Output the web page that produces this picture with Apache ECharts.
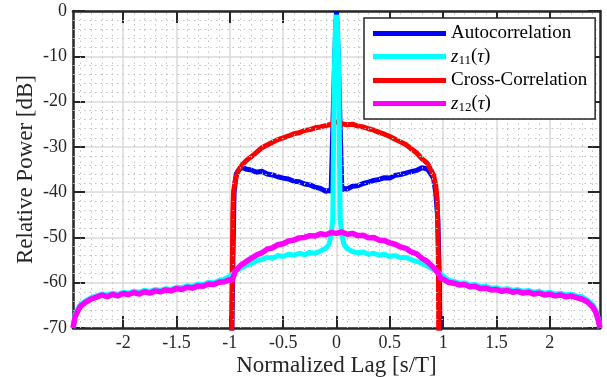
<!DOCTYPE html>
<html>
<head>
<meta charset="utf-8">
<script src="https://cdn.jsdelivr.net/npm/echarts@6/dist/echarts.min.js"></script>
<style>html,body{margin:0;padding:0;background:#fff}#c{width:607px;height:377px}</style>
</head>
<body>
<div id="c"></div>
<script>
// ---- data ----
const xTicks = [-2, -1.5, -1, -0.5, 0, 0.5, 1, 1.5, 2];
const xTickLabels = ['-2', '-1.5', '-1', '-0.5', '0', '0.5', '1', '1.5', '2'];
const yTicks = [-70, -60, -50, -40, -30, -20, -10, 0];
const seriesNames = ['Autocorrelation', 'z11', 'Cross-Correlation', 'z12'];

const autoLag = [-2.47,-0.99,-0.975,-0.96,-0.94,-0.92,-0.9,-0.88,-0.85,-0.8,-0.75,-0.7,-0.65,-0.6,-0.55,-0.5,-0.45,-0.4,-0.35,-0.3,-0.25,-0.2,-0.15,-0.1,-0.07,-0.05,-0.03,-0.015,0,0.015,0.03,0.05,0.07,0.1,0.15,0.2,0.25,0.3,0.35,0.4,0.45,0.5,0.55,0.6,0.65,0.7,0.75,0.8,0.85,0.88,0.91,0.93,0.95,0.965,0.975,2.47];
const autoDb = [-90,-90,-60,-40,-36,-35.2,-34.8,-34.5,-34.9,-35.1,-35.6,-35.4,-36.0,-36.2,-36.6,-36.9,-37.1,-37.6,-37.7,-38.2,-38.4,-38.9,-39.2,-39.8,-39.6,-39.8,-22,-9,0,-9,-22,-39.5,-39.2,-39.3,-38.7,-38.6,-38.1,-37.8,-37.4,-37.2,-36.8,-36.9,-36.3,-36.1,-35.8,-35.5,-35.2,-34.6,-34.9,-35.8,-37,-40,-46,-60,-90,-90];

const z11Lag = [-2.47,-2.45,-2.42,-2.4,-2.35,-2.3,-2.25,-2.2,-2.15,-2.1,-2.05,-2,-1.95,-1.9,-1.85,-1.8,-1.75,-1.7,-1.65,-1.6,-1.55,-1.5,-1.45,-1.4,-1.35,-1.3,-1.25,-1.2,-1.15,-1.1,-1.05,-1,
  -0.95,-0.9,-0.85,-0.8,-0.75,-0.7,-0.65,-0.6,-0.55,-0.5,-0.45,-0.4,-0.35,-0.3,-0.25,-0.2,-0.15,-0.1,
  -0.07,-0.05,-0.035,-0.028,-0.022,-0.012,0,0.012,0.022,0.028,0.035,0.05,0.07,
  0.1,0.15,0.2,0.25,0.3,0.35,0.4,0.45,0.5,0.55,0.6,0.65,0.7,0.75,0.8,0.85,0.9,0.95,
  1,1.05,1.1,1.15,1.2,1.25,1.3,1.35,1.4,1.45,1.5,1.55,1.6,1.65,1.7,1.75,1.8,1.85,1.9,1.95,2,2.05,2.1,2.15,2.2,2.25,2.3,2.35,2.4,2.43,2.45,2.47];
const z11Db = [-70,-67,-65.6,-64.8,-64.0,-63.3,-62.9,-62.5,-62.8,-62.3,-62.6,-62.1,-62.3,-61.9,-62.1,-61.7,-61.9,-61.5,-61.7,-61.3,-61.5,-61.0,-61.1,-60.7,-60.8,-60.3,-60.4,-59.9,-60.0,-59.5,-59.2,-58.6,
  -57.6,-56.8,-56.2,-55.8,-55.1,-54.9,-54.4,-54.6,-54.0,-54.2,-53.7,-53.9,-53.5,-53.8,-53.3,-53.5,-53.0,-52.4,
  -51.5,-49.5,-46,-30,-15,-5,-0.8,-5,-15,-30,-46,-49.5,-51.5,
  -52.5,-53.1,-53.4,-53.2,-53.7,-53.5,-53.9,-53.7,-54.2,-54.0,-54.5,-54.4,-54.9,-55.3,-55.7,-56.3,-56.9,-57.7,
  -58.5,-59.4,-59.7,-60.1,-60.0,-60.5,-60.4,-60.9,-60.8,-61.2,-61.1,-61.5,-61.3,-61.7,-61.5,-61.9,-61.7,-62.1,-61.9,-62.3,-62.1,-62.5,-62.3,-62.7,-62.5,-62.9,-63.1,-63.8,-64.8,-66,-67.5,-70];

const crossLag = [-2.47,-0.99,-0.978,-0.972,-0.965,-0.95,-0.93,-0.9,-0.87,-0.84,-0.8,-0.75,-0.7,-0.65,-0.6,-0.55,-0.5,-0.45,-0.4,-0.35,-0.3,-0.25,-0.2,-0.15,-0.1,-0.05,0,0.05,0.1,0.15,0.2,0.25,0.3,0.35,0.4,0.45,0.5,0.55,0.6,0.65,0.7,0.75,0.8,0.85,0.88,0.91,0.93,0.945,0.955,0.962,2.47];
const crossDb = [-90,-90,-60,-45,-40,-37.5,-35.8,-34.4,-33.6,-32.9,-32.2,-31.2,-30.2,-29.6,-29.0,-28.4,-28.0,-27.6,-27.1,-26.9,-26.4,-26.2,-25.8,-25.6,-25.3,-25.0,-24.5,-24.9,-25.1,-25.0,-25.4,-25.6,-26.0,-26.3,-26.8,-27.2,-27.7,-28.3,-28.9,-29.5,-30.4,-31.3,-32.6,-33.6,-34.8,-36.3,-38.5,-42,-55,-90,-90];

const z12Lag = [-2.47,-2.45,-2.42,-2.4,-2.35,-2.3,-2.25,-2.2,-2.15,-2.1,-2.05,-2,-1.95,-1.9,-1.85,-1.8,-1.75,-1.7,-1.65,-1.6,-1.55,-1.5,-1.45,-1.4,-1.35,-1.3,-1.25,-1.2,-1.15,-1.1,-1.05,-1,-0.98,
  -0.95,-0.9,-0.85,-0.8,-0.75,-0.7,-0.65,-0.6,-0.55,-0.5,-0.45,-0.4,-0.35,-0.3,-0.25,-0.2,-0.15,-0.1,-0.05,0,0.05,0.1,0.15,0.2,0.25,0.3,0.35,0.4,0.45,0.5,0.55,0.6,0.65,0.7,0.75,0.8,0.85,0.9,0.95,
  0.98,1,1.05,1.1,1.15,1.2,1.25,1.3,1.35,1.4,1.45,1.5,1.55,1.6,1.65,1.7,1.75,1.8,1.85,1.9,1.95,2,2.05,2.1,2.15,2.2,2.25,2.3,2.35,2.4,2.43,2.45,2.47];
const z12Db = [-70,-67.5,-66,-65.2,-64.3,-63.6,-63.2,-62.7,-63.1,-62.6,-62.9,-62.4,-62.6,-62.2,-62.5,-62.0,-62.3,-61.8,-62.0,-61.6,-61.8,-61.3,-61.5,-61.0,-61.2,-60.7,-60.8,-60.3,-60.4,-59.9,-59.8,-59.3,-59.6,
  -57.5,-56.2,-55.4,-54.6,-53.9,-53.4,-52.6,-52.3,-51.6,-51.4,-50.8,-50.6,-50.1,-50.0,-49.6,-49.7,-49.2,-49.4,-48.9,-49.1,-48.8,-49.3,-49.1,-49.6,-49.5,-50.1,-50.0,-50.6,-50.7,-51.2,-51.5,-52.1,-52.4,-53.2,-53.6,-54.6,-55.3,-56.4,-57.8,
  -59.0,-59.2,-59.9,-60.1,-60.5,-60.4,-60.9,-60.8,-61.3,-61.2,-61.6,-61.5,-61.9,-61.7,-62.1,-61.9,-62.3,-62.1,-62.5,-62.3,-62.7,-62.5,-62.9,-62.7,-63.1,-62.9,-63.3,-63.6,-64.2,-65.3,-66.5,-68,-70];

// ---- chart ----
const FONT = 'Liberation Serif';
const X_MIN = -2.47, X_MAX = 2.47, Y_MIN = -70, Y_MAX = 0;
const AX = '#262626';
const pair = (xs, ys) => xs.map((x, i) => [x, ys[i]]);

// minor (dotted) grid positions derived from the major ticks
const xMinor = [];
for (let k = -24; k <= 24; k++) { const v = k / 10; if (k % 5 !== 0) xMinor.push(v); }
const yMinor = [];
for (let v = -68; v < 0; v += 2) { if (v % 10 !== 0) yMinor.push(v); }

const chart = echarts.init(document.getElementById('c'), null, {renderer: 'canvas'});
const axisLineStyle = {color: AX, width: 2.5};
const tickStyle = {color: AX, width: 2};

const legendFmt = {
  'Autocorrelation': 'Autocorrelation',
  'z11': '{it|z}{sub|11}{n|(}{it|τ}{n|)}',
  'Cross-Correlation': 'Cross-Correlation',
  'z12': '{it|z}{sub|12}{n|(}{it|τ}{n|)}'
};

chart.setOption({
  animation: false,
  backgroundColor: '#ffffff',
  grid: {left: 73, right: 7, top: 11, bottom: 49, containLabel: false, outerBoundsMode: 'none'},
  xAxis: [{
    type: 'value', min: X_MIN, max: X_MAX, position: 'bottom',
    name: 'Normalized Lag [s/T]', nameLocation: 'middle', nameGap: 26, nameMoveOverlap: false,
    nameTextStyle: {fontFamily: FONT, fontSize: 23, color: AX},
    axisLine: {show: true, onZero: false, lineStyle: axisLineStyle},
    axisTick: {show: true, inside: true, length: 12, lineStyle: tickStyle, customValues: xTicks},
    axisLabel: {show: true, fontFamily: FONT, fontSize: 18, color: AX, margin: 6,
      customValues: xTicks, formatter: v => xTickLabels[xTicks.indexOf(+v.toFixed(2))] ?? ''},
    splitLine: {show: true, lineStyle: {color: '#dadada', width: 1.5}}
  }, {
    type: 'value', min: X_MIN, max: X_MAX, position: 'top',
    axisLine: {show: true, onZero: false, lineStyle: axisLineStyle},
    axisTick: {show: true, inside: true, length: 12, lineStyle: tickStyle, customValues: xTicks},
    axisLabel: {show: false}, splitLine: {show: false}
  }],
  yAxis: [{
    type: 'value', min: Y_MIN, max: Y_MAX, interval: 10, position: 'left',
    name: 'Relative Power [dB]', nameLocation: 'middle', nameGap: 36, nameRotate: 90, nameMoveOverlap: false,
    nameTextStyle: {fontFamily: FONT, fontSize: 23, color: AX},
    axisLine: {show: true, onZero: false, lineStyle: axisLineStyle},
    axisTick: {show: true, inside: true, length: 12, lineStyle: tickStyle},
    axisLabel: {fontFamily: FONT, fontSize: 18, color: AX, margin: 6},
    splitLine: {show: true, lineStyle: {color: '#dadada', width: 1.5}}
  }, {
    type: 'value', min: Y_MIN, max: Y_MAX, interval: 10, position: 'right',
    axisLine: {show: true, onZero: false, lineStyle: axisLineStyle},
    axisTick: {show: true, inside: true, length: 12, lineStyle: tickStyle},
    axisLabel: {show: false}, splitLine: {show: false}
  }],
  legend: {
    orient: 'vertical', left: 364, top: 18, z: 20,
    data: seriesNames,
    backgroundColor: '#ffffff', borderColor: AX, borderWidth: 1.5, borderRadius: 0,
    padding: [6, 8, 5, 9], itemGap: 4, itemWidth: 73, itemHeight: 5, icon: 'rect',
    formatter: n => legendFmt[n],
    textStyle: {fontFamily: FONT, fontSize: 19, color: '#000', lineHeight: 18,
      rich: {
        it: {fontFamily: FONT, fontSize: 19, fontStyle: 'italic', color: '#000'},
        sub: {fontFamily: FONT, fontSize: 13, color: '#000', padding: [8, 0, 0, 0]},
        n: {fontFamily: FONT, fontSize: 19, color: '#000'}
      }}
  },
  series: [
    {name: 'Autocorrelation', type: 'line', z: 3, data: pair(autoLag, autoDb), showSymbol: false,
     lineStyle: {color: '#0000ff', width: 5}, itemStyle: {color: '#0000ff'}, clip: true},
    {name: 'z11', type: 'line', z: 5, data: pair(z11Lag, z11Db), showSymbol: false,
     lineStyle: {color: '#00ffff', width: 5}, itemStyle: {color: '#00ffff'}, clip: true},
    {name: 'Cross-Correlation', type: 'line', z: 4, data: pair(crossLag, crossDb), showSymbol: false,
     lineStyle: {color: '#ff0000', width: 5}, itemStyle: {color: '#ff0000'}, clip: true},
    {name: 'z12', type: 'line', z: 6, data: pair(z12Lag, z12Db), showSymbol: false,
     lineStyle: {color: '#ff00ff', width: 5.5}, itemStyle: {color: '#ff00ff'}, clip: true},
    {name: 'minorGrid', type: 'line', z: 1, data: [], silent: true,
     markLine: {silent: true, symbol: 'none', label: {show: false}, animation: false,
       lineStyle: {color: '#c2c2c2', width: 1, type: [1.5, 4]},
       data: xMinor.map(v => ({xAxis: v})).concat(yMinor.map(v => ({yAxis: v})))}}
  ]
});
</script>
</body>
</html>
